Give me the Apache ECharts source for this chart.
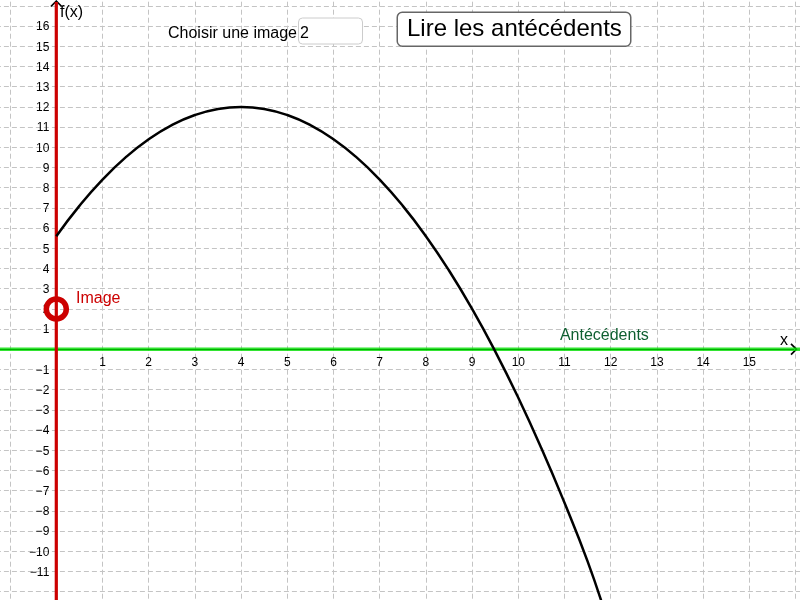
<!DOCTYPE html>
<html>
<head>
<meta charset="utf-8">
<script src="https://cdn.jsdelivr.net/npm/echarts@6/dist/echarts.min.js"></script>
<style>
html,body{margin:0;padding:0;background:#fff;}
#c{width:800px;height:600px;}
</style>
</head>
<body>
<div id="c"></div>
<script>
// ---- data ----
const curveX = [0, 0.5, 1, 1.5, 2, 2.5, 3, 3.5, 4, 4.5, 5, 5.5, 6, 6.5, 7, 7.5, 8, 8.5, 9, 9.5, 10, 10.5, 11, 11.5, 11.9];
const curveY = [5.6, 7.1, 8.4, 9.5, 10.4, 11.1, 11.6, 11.9, 12, 11.9, 11.6, 11.1, 10.4, 9.5, 8.4, 7.1, 5.6, 3.9, 2, -0.1, -2.4, -4.9, -7.6, -10.5, -13.2];
const imageX = [0];
const imageY = [2];
const xTickLabels = [1, 2, 3, 4, 5, 6, 7, 8, 9, 10, 11, 12, 13, 14, 15];
const yTickLabels = [-11, -10, -9, -8, -7, -6, -5, -4, -3, -2, -1, 1, 2, 3, 4, 5, 6, 7, 8, 9, 10, 11, 12, 13, 14, 15, 16];
const uiChooseText = 'Choisir une image';
const uiButtonText = 'Lire les antécédents';
const imageLabel = 'Image';
const antecedentLabel = 'Antécédents';
const antecedentLabelPos = [10.9, 0.68];

// ---- layout ----
const FONT = 'Liberation Sans, Arial, sans-serif';
const X_MIN = -2, X_MAX = 17, Y_MIN = -13, Y_MAX = 18;
const PX_X = 46.2, PX_Y = 20.2, OX = 56.3, OY = 349.3;
const gridLeft = OX + X_MIN * PX_X;
const gridTop = OY - Y_MAX * PX_Y;
const gridWidth = (X_MAX - X_MIN) * PX_X;
const gridHeight = (Y_MAX - Y_MIN) * PX_Y;
const xArrowEnd = (794 - OX) / PX_X;
const yArrowEnd = (OY - 3.5) / PX_Y;
const chevron = 'path://M6,0 L12,6 L10.8,7.2 L6,2.4 L1.2,7.2 L0,6 Z';
const minus = v => v < 0 ? '\u2212' + Math.abs(v) : String(v);

const chart = echarts.init(document.getElementById('c'), null, {renderer: 'canvas'});
const splitStyle = {color: '#c4c4c4', width: 1, type: [5, 3]};
const tickFont = {fontSize: 12, color: '#000', fontFamily: FONT};

chart.setOption({
  animation: false,
  backgroundColor: '#ffffff',
  grid: {left: gridLeft, top: gridTop, width: gridWidth, height: gridHeight,
         containLabel: false, outerBoundsMode: 'none'},
  xAxis: {
    type: 'value', min: X_MIN, max: X_MAX, interval: 1,
    axisLine: {show: false}, axisTick: {show: false}, axisLabel: {show: false},
    splitLine: {show: true, lineStyle: splitStyle}
  },
  yAxis: {
    type: 'value', min: Y_MIN, max: Y_MAX, interval: 1,
    axisLine: {show: false}, axisTick: {show: false}, axisLabel: {show: false},
    splitLine: {show: true, lineStyle: splitStyle}
  },
  series: [
    {
      // black axes with open arrows
      type: 'line', data: [], silent: true, z: 2,
      markLine: {
        silent: true, animation: false, z: 1,
        symbol: ['none', chevron], symbolSize: [12, 7.2],
        label: {show: false},
        emphasis: {disabled: true},
        lineStyle: {color: '#000', width: 1.2, type: 'solid'},
        data: [
          [{coord: [X_MIN, 0]}, {coord: [xArrowEnd, 0]}],
          [{coord: [0, 16.9]}, {coord: [0, yArrowEnd]}]
        ]
      }
    },
    {
      // x tick labels
      type: 'scatter', silent: true, z: 4, symbolSize: 0,
      data: xTickLabels.map(v => [v, 0]),
      itemStyle: {opacity: 1},
      label: Object.assign({show: true, position: 'bottom', distance: 7,
        formatter: p => minus(p.value[0])}, tickFont)
    },
    {
      // y tick labels
      type: 'scatter', silent: true, z: 4, symbolSize: 0,
      data: yTickLabels.map(v => [0, v]),
      itemStyle: {opacity: 1},
      label: Object.assign({show: true, position: 'left', distance: 7, offset: [0, 1],
        formatter: p => minus(p.value[1])}, tickFont)
    },
    {
      // green line on x-axis
      type: 'line', data: [[X_MIN, 0], [X_MAX, 0]], symbol: 'none', silent: true, z: 3,
      lineStyle: {color: '#00dd00', width: 3.5, opacity: 0.8}
    },
    {
      // red line on y-axis
      type: 'line', data: [[0, Y_MIN], [0, (OY - 2) / PX_Y]], symbol: 'none', silent: true, z: 3,
      lineStyle: {color: '#cc0000', width: 3.2, opacity: 1}
    },
    {
      type: 'line', name: 'f',
      data: curveX.map((x, i) => [x, curveY[i]]),
      smooth: 0.5, showSymbol: false, symbol: 'none', z: 5,
      lineStyle: {color: '#000', width: 2.5}
    },
    {
      type: 'scatter', z: 6,
      data: imageX.map((x, i) => [x, imageY[i]]),
      symbol: 'circle', symbolSize: 20,
      itemStyle: {color: 'rgba(255,255,255,0)', borderColor: '#cc0000', borderWidth: 5.5, opacity: 1},
      label: {
        show: true, position: 'right', distance: 7, offset: [0, -10],
        formatter: imageLabel, color: '#cc0000', fontSize: 16, fontFamily: FONT, opacity: 1
      }
    },
    {
      type: 'scatter', z: 6, symbolSize: 0, silent: true,
      data: [antecedentLabelPos],
      itemStyle: {opacity: 1},
      label: {
        show: true, position: 'right', distance: 0, opacity: 1,
        formatter: antecedentLabel, color: '#0e5f30', fontSize: 16, fontFamily: FONT
      }
    }
  ],
  graphic: [
    {type: 'text', left: 60, top: 5, z: 100,
     style: {text: 'f(x)', fill: '#000', font: '16px ' + FONT}},
    {type: 'text', left: 780, top: 333, z: 100,
     style: {text: 'x', fill: '#000', font: '16px ' + FONT}},
    {type: 'text', left: 168, top: 26, z: 100,
     style: {text: uiChooseText, fill: '#000', font: '16px ' + FONT}},
    {type: 'rect', left: 298, top: 17.5, z: 100,
     shape: {width: 64, height: 26, r: 4},
     style: {fill: '#fff', stroke: '#cccccc', lineWidth: 1}},
    {type: 'text', left: 300, top: 26, z: 101,
     style: {text: String(imageY[0]), fill: '#000', font: '16px ' + FONT}},
    {type: 'rect', left: 396.5, top: 11.5, z: 100,
     shape: {width: 233.5, height: 34, r: 5},
     style: {fill: '#fff', stroke: '#666666', lineWidth: 1.5}},
    {type: 'text', left: 407, top: 17, z: 101,
     style: {text: uiButtonText, fill: '#000', font: '24px ' + FONT}}
  ]
});
</script>
</body>
</html>
